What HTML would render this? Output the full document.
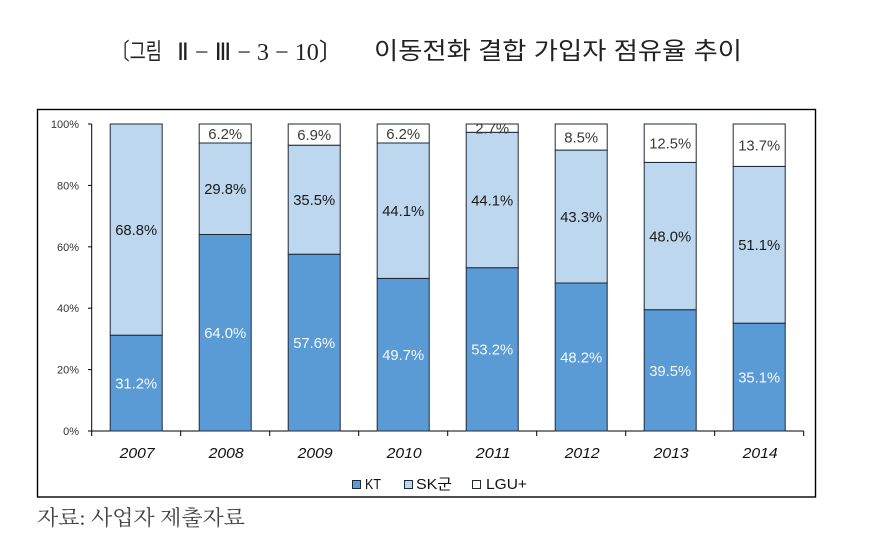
<!DOCTYPE html>
<html><head><meta charset="utf-8">
<style>
html,body{margin:0;padding:0;background:#fff;}
svg{display:block;}
</style></head>
<body>
<svg width="881" height="552" viewBox="0 0 881 552" xmlns="http://www.w3.org/2000/svg">
<rect width="881" height="552" fill="#fff"/>
<!-- Title -->
<g fill="#222">
<text x="112" y="59" font-family="'Noto Sans CJK KR', sans-serif" font-size="23" textLength="50" lengthAdjust="spacingAndGlyphs">〔그림</text>
<text x="177" y="60" font-family="'Liberation Serif', serif" font-size="24" textLength="166" lengthAdjust="spacingAndGlyphs">Ⅱ − Ⅲ − 3 − 10〕</text>
<text x="374" y="59" font-family="'Liberation Sans','Noto Sans CJK KR', sans-serif" font-size="24" textLength="368" lengthAdjust="spacingAndGlyphs">이동전화 결합 가입자 점유율 추이</text>
</g>
<!-- Outer box -->
<rect x="37.5" y="109.5" width="778" height="387.5" fill="none" stroke="#000" stroke-width="1.4"/>

<!-- Y axis -->
<g stroke="#000" stroke-width="1">
<line x1="91.7" y1="124" x2="91.7" y2="431"/>
<line x1="88" y1="124" x2="91.7" y2="124"/>
<line x1="88" y1="185.4" x2="91.7" y2="185.4"/>
<line x1="88" y1="246.8" x2="91.7" y2="246.8"/>
<line x1="88" y1="308.2" x2="91.7" y2="308.2"/>
<line x1="88" y1="369.6" x2="91.7" y2="369.6"/>
<line x1="88" y1="431" x2="803.7" y2="431"/>
<line x1="91.7" y1="431" x2="91.7" y2="436"/>
<line x1="180.7" y1="431" x2="180.7" y2="436"/>
<line x1="269.7" y1="431" x2="269.7" y2="436"/>
<line x1="358.7" y1="431" x2="358.7" y2="436"/>
<line x1="447.7" y1="431" x2="447.7" y2="436"/>
<line x1="536.7" y1="431" x2="536.7" y2="436"/>
<line x1="625.7" y1="431" x2="625.7" y2="436"/>
<line x1="714.7" y1="431" x2="714.7" y2="436"/>
<line x1="803.7" y1="431" x2="803.7" y2="436"/>
</g>
<g font-family="'Liberation Sans', sans-serif" font-size="11" fill="#333" text-anchor="end">
<text x="79" y="128">100%</text>
<text x="79" y="189.4">80%</text>
<text x="79" y="250.8">60%</text>
<text x="79" y="312.2">40%</text>
<text x="79" y="373.6">20%</text>
<text x="79" y="435">0%</text>
</g>

<!-- Bars -->
<g stroke="#1e2a3a" stroke-width="1">
<rect x="110.2" y="335.2" width="52" height="95.8" fill="#5B9BD5"/>
<rect x="110.2" y="124" width="52" height="211.2" fill="#BDD7EE"/>
<rect x="199.2" y="234.5" width="52" height="196.5" fill="#5B9BD5"/>
<rect x="199.2" y="143" width="52" height="91.5" fill="#BDD7EE"/>
<rect x="199.2" y="124" width="52" height="19" fill="#fff"/>
<rect x="288.2" y="254.2" width="52" height="176.8" fill="#5B9BD5"/>
<rect x="288.2" y="145.2" width="52" height="109" fill="#BDD7EE"/>
<rect x="288.2" y="124" width="52" height="21.2" fill="#fff"/>
<rect x="377.2" y="278.4" width="52" height="152.6" fill="#5B9BD5"/>
<rect x="377.2" y="143" width="52" height="135.4" fill="#BDD7EE"/>
<rect x="377.2" y="124" width="52" height="19" fill="#fff"/>
<rect x="466.2" y="267.7" width="52" height="163.3" fill="#5B9BD5"/>
<rect x="466.2" y="132.3" width="52" height="135.4" fill="#BDD7EE"/>
<rect x="466.2" y="124" width="52" height="8.3" fill="#fff"/>
<rect x="555.2" y="283" width="52" height="148" fill="#5B9BD5"/>
<rect x="555.2" y="150.1" width="52" height="132.9" fill="#BDD7EE"/>
<rect x="555.2" y="124" width="52" height="26.1" fill="#fff"/>
<rect x="644.2" y="309.7" width="52" height="121.3" fill="#5B9BD5"/>
<rect x="644.2" y="162.4" width="52" height="147.3" fill="#BDD7EE"/>
<rect x="644.2" y="124" width="52" height="38.4" fill="#fff"/>
<rect x="733.2" y="323.2" width="52" height="107.8" fill="#5B9BD5"/>
<rect x="733.2" y="166.4" width="52" height="156.8" fill="#BDD7EE"/>
<rect x="733.2" y="124" width="52" height="42.4" fill="#fff"/>
</g>

<!-- Labels -->
<g font-family="'Liberation Sans', sans-serif" font-size="15" text-anchor="middle">
<g fill="#f4f8fc">
<text x="136.2" y="388.5" textLength="42" lengthAdjust="spacingAndGlyphs">31.2%</text>
<text x="225.2" y="338.2" textLength="42" lengthAdjust="spacingAndGlyphs">64.0%</text>
<text x="314.2" y="348" textLength="42" lengthAdjust="spacingAndGlyphs">57.6%</text>
<text x="403.2" y="360.1" textLength="42" lengthAdjust="spacingAndGlyphs">49.7%</text>
<text x="492.2" y="354.7" textLength="42" lengthAdjust="spacingAndGlyphs">53.2%</text>
<text x="581.2" y="362.4" textLength="42" lengthAdjust="spacingAndGlyphs">48.2%</text>
<text x="670.2" y="375.8" textLength="42" lengthAdjust="spacingAndGlyphs">39.5%</text>
<text x="759.2" y="382.5" textLength="42" lengthAdjust="spacingAndGlyphs">35.1%</text>
</g>
<g fill="#1a1a1a">
<text x="136.2" y="235" textLength="42" lengthAdjust="spacingAndGlyphs">68.8%</text>
<text x="225.2" y="194.2" textLength="42" lengthAdjust="spacingAndGlyphs">29.8%</text>
<text x="314.2" y="205.1" textLength="42" lengthAdjust="spacingAndGlyphs">35.5%</text>
<text x="403.2" y="216.1" textLength="42" lengthAdjust="spacingAndGlyphs">44.1%</text>
<text x="492.2" y="205.4" textLength="42" lengthAdjust="spacingAndGlyphs">44.1%</text>
<text x="581.2" y="222" textLength="42" lengthAdjust="spacingAndGlyphs">43.3%</text>
<text x="670.2" y="241.5" textLength="42" lengthAdjust="spacingAndGlyphs">48.0%</text>
<text x="759.2" y="250.2" textLength="42" lengthAdjust="spacingAndGlyphs">51.1%</text>
</g>
<g fill="#3a3a3a">
<text x="225.2" y="138.9" textLength="34" lengthAdjust="spacingAndGlyphs">6.2%</text>
<text x="314.2" y="140" textLength="34" lengthAdjust="spacingAndGlyphs">6.9%</text>
<text x="403.2" y="138.9" textLength="34" lengthAdjust="spacingAndGlyphs">6.2%</text>
<text x="492.2" y="133.5" textLength="34" lengthAdjust="spacingAndGlyphs">2.7%</text>
<text x="581.2" y="142.4" textLength="34" lengthAdjust="spacingAndGlyphs">8.5%</text>
<text x="670.2" y="148.6" textLength="42" lengthAdjust="spacingAndGlyphs">12.5%</text>
<text x="759.2" y="150.6" textLength="42" lengthAdjust="spacingAndGlyphs">13.7%</text>
</g>
</g>

<!-- X labels -->
<g font-family="'Liberation Sans', sans-serif" font-size="15" font-style="italic" fill="#111" text-anchor="middle">
<text x="137.2" y="458" textLength="35" lengthAdjust="spacingAndGlyphs">2007</text>
<text x="226.2" y="458" textLength="35" lengthAdjust="spacingAndGlyphs">2008</text>
<text x="315.2" y="458" textLength="35" lengthAdjust="spacingAndGlyphs">2009</text>
<text x="404.2" y="458" textLength="35" lengthAdjust="spacingAndGlyphs">2010</text>
<text x="493.2" y="458" textLength="35" lengthAdjust="spacingAndGlyphs">2011</text>
<text x="582.2" y="458" textLength="35" lengthAdjust="spacingAndGlyphs">2012</text>
<text x="671.2" y="458" textLength="35" lengthAdjust="spacingAndGlyphs">2013</text>
<text x="760.2" y="458" textLength="35" lengthAdjust="spacingAndGlyphs">2014</text>
</g>

<!-- Legend -->
<g stroke="#1e2a3a" stroke-width="1">
<rect x="352.5" y="480.5" width="8" height="8" fill="#5B9BD5"/>
<rect x="404.5" y="480.5" width="8" height="8" fill="#BDD7EE"/>
<rect x="472.5" y="480.5" width="8" height="8" fill="#fff"/>
</g>
<g font-family="'Liberation Sans','Noto Sans CJK KR', sans-serif" font-size="15" fill="#111">
<text x="365" y="489" textLength="16" lengthAdjust="spacingAndGlyphs">KT</text>
<text x="416" y="489" textLength="36" lengthAdjust="spacingAndGlyphs">SK군</text>
<text x="486" y="489" textLength="41" lengthAdjust="spacingAndGlyphs">LGU+</text>
</g>

<!-- Source -->
<text x="37" y="525" font-family="'Liberation Serif','Noto Serif CJK KR', serif" font-size="21" fill="#444" textLength="208" lengthAdjust="spacingAndGlyphs">자료: 사업자 제출자료</text>
</svg>
</body></html>
